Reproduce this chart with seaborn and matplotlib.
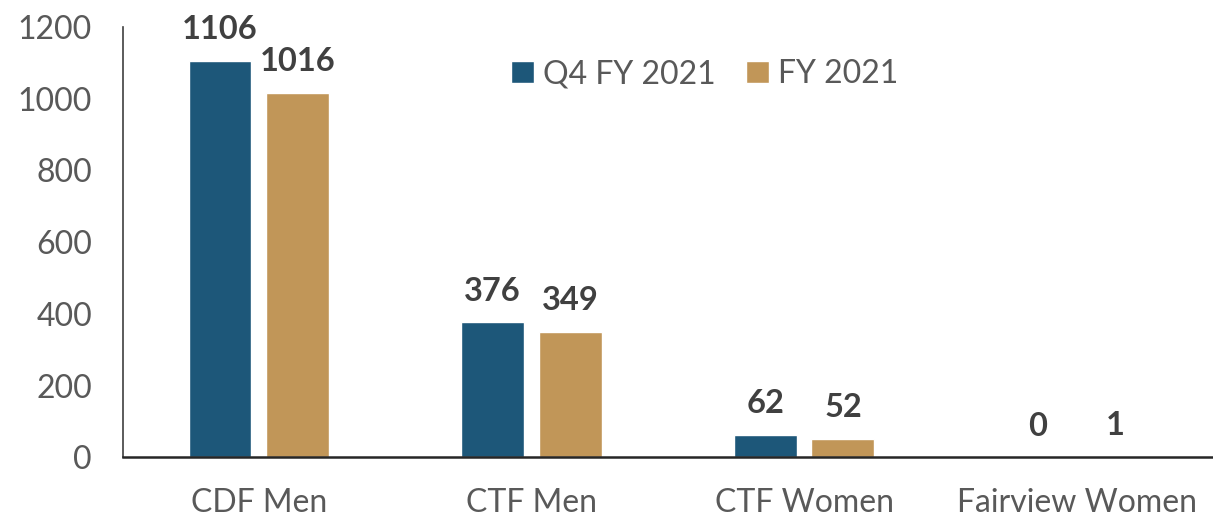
import pandas as pd
import matplotlib
matplotlib.use('Agg')
import matplotlib.pyplot as plt
import seaborn as sns

# Chart data
categories = ['CDF Men', 'CTF Men', 'CTF Women', 'Fairview Women']
series_names = ['Q4 FY 2021', 'FY 2021']
q4_fy2021 = [1106, 376, 62, 0]
fy2021 = [1016, 349, 52, 1]
y_ticks = [0, 200, 400, 600, 800, 1000, 1200]

colors = ['#1D5779', '#C19658']
text_gray = '#595959'
label_gray = '#404040'

# Build long-form table for seaborn
df = pd.DataFrame({
    'Category': categories * 2,
    'Series': [series_names[0]] * len(categories) + [series_names[1]] * len(categories),
    'Value': q4_fy2021 + fy2021,
})

sns.set_style('white')
plt.rcParams['font.family'] = ['Lato', 'DejaVu Sans']

fig = plt.figure(figsize=(12.13, 5.19), dpi=100)
ax = fig.add_axes([0.101, 0.119, 0.899, 0.829])

sns.barplot(data=df, x='Category', y='Value', hue='Series', order=categories,
            hue_order=series_names, palette=colors, width=0.57, gap=0.19,
            saturation=1, ax=ax)

# Value labels above bars
for container in ax.containers:
    ax.bar_label(container, fmt='%d', padding=12, fontsize=23.5, fontweight='bold',
                 color=label_gray)

ax.set_ylim(0, 1200)
ax.set_xlim(-0.5, 3.5)
ax.set_yticks(y_ticks)
ax.set_xlabel('')
ax.set_ylabel('')
ax.tick_params(axis='both', length=0, labelsize=23, labelcolor=text_gray)
ax.tick_params(axis='x', pad=22)
ax.tick_params(axis='y', pad=22)

for side in ['top', 'right']:
    ax.spines[side].set_visible(False)
ax.spines['left'].set_color('#404040')
ax.spines['left'].set_linewidth(1.2)
ax.spines['bottom'].set_color('#262626')
ax.spines['bottom'].set_linewidth(1.8)

# Legend
handles, labels = ax.get_legend_handles_labels()
ax.legend(handles, labels, loc='center', bbox_to_anchor=(0.534, 0.89), ncol=2,
          frameon=False, fontsize=23, labelcolor=text_gray, handlelength=0.7,
          handleheight=0.7, handletextpad=0.3, columnspacing=0.95)

fig.savefig('out.png', dpi=100)
